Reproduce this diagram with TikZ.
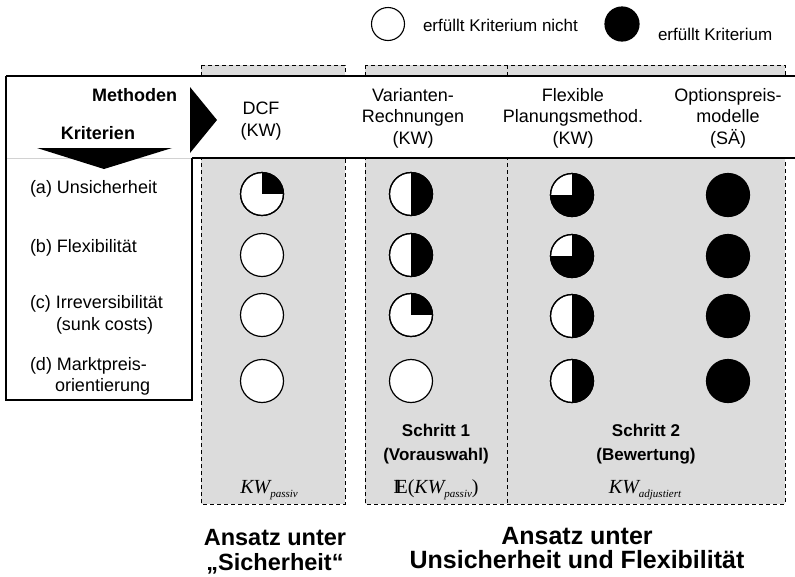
\documentclass[tikz,border=0pt]{standalone}
\usepackage{fontspec}
\setmainfont{Liberation Sans}
\newfontfamily\tms{Liberation Serif}
\definecolor{boxgray}{RGB}{220,220,220}

% KW with an italic subscript, set in a Times-like face
\newcommand\kwsub[1]{{\tms\itshape\fontsize{20}{20}\selectfont KW}\raisebox{-4pt}{\tms\itshape\fontsize{11}{11}\selectfont #1}}

\tikzset{
  every node/.style={inner sep=0pt, outer sep=0pt},
  colhead/.style={font=\fontsize{18}{21.5}\selectfont, align=center},
  hdbold/.style={font=\bfseries\fontsize{18}{21.5}\selectfont},
  crit/.style={font=\fontsize{18}{21}\selectfont, anchor=west, text height=13pt, text depth=4pt},
  legendtxt/.style={font=\fontsize{17}{20}\selectfont, anchor=west},
  steptxt/.style={font=\bfseries\fontsize{17}{24}\selectfont, align=center},
  approach/.style={font=\bfseries\fontsize{23.5}{25}\selectfont, align=center},
  approachwide/.style={font=\bfseries\fontsize{25}{24}\selectfont, align=center},
  band/.style={fill=boxgray, draw=black, dash pattern=on 4pt off 3pt, line width=0.9pt},
  frame/.style={draw=black, line width=1.3pt},
  dot/.style={circle, draw=black, fill=white, line width=1.2pt, minimum size=43pt},
  dotline/.style={postaction={draw=black, line width=1.2pt}},
  qone/.style={dot, dotline, path picture={\fill[black] (path picture bounding box.center) rectangle (path picture bounding box.north east);}},
  qtwo/.style={dot, dotline, path picture={\fill[black] (path picture bounding box.south) rectangle (path picture bounding box.north east);}},
  qthree/.style={dot, dotline, path picture={
      \fill[black] (path picture bounding box.south west) rectangle (path picture bounding box.east);
      \fill[black] (path picture bounding box.center) rectangle (path picture bounding box.north east);}},
  qfour/.style={dot, fill=black},
}

\begin{document}
\begin{tikzpicture}[x=1pt, y=-1pt]
\useasboundingbox (0,0) rectangle (795,576);

% shaded method groups
\draw[band] (201,65) rectangle (345,504);
\draw[band] (365,65) rectangle (785,504);
\draw[black, dash pattern=on 4pt off 3pt, line width=0.9pt] (507,65) -- (507,504);

% header band and criteria column
\fill[white] (6,76) rectangle (795,158);
\fill[white] (6,158) rectangle (192,400);
\draw[frame] (6,76) -- (795,76);
\draw[frame] (192,158) -- (795,158);
\draw[gray!35, line width=0.8pt] (6,158) -- (192,158);
\draw[frame] (192,158) -- (192,400) -- (6,400) -- (6,76);

% direction arrows
\fill[black] (190,87) -- (190,153) -- (217,120) -- cycle;
\fill[black] (37,148) -- (172,148) -- (104,169) -- cycle;

\node[hdbold, anchor=east] (meth) at (177,95) {Methoden};
\node[hdbold] (krit) at (98,133) {Kriterien};

% legend
\node[dot, minimum size=33pt, line width=1.1pt] (lgopen) at (388,24) {};
\node[legendtxt] (lgopentxt) at (423,25) {erfüllt Kriterium nicht};
\node[qfour, minimum size=34pt] (lgfull) at (622,24) {};
\node[legendtxt] (lgfulltxt) at (658,34) {erfüllt Kriterium};

% method headings
\node[colhead] (mdcf) at (261,121) {DCF\\(KW)};
\node[colhead] (mvar) at (413,118) {Varianten-\\Rechnungen\\(KW)};
\node[colhead] (mflex) at (573,118) {Flexible\\Planungsmethod.\\(KW)};
\node[colhead] (mopt) at (728,118) {Optionspreis-\\modelle\\(SÄ)};

% criteria
\node[crit] (ca) at (30,189) {(a) Unsicherheit};
\node[crit] (cb) at (30,248) {(b) Flexibilität};
\node[crit] (cc) at (30,304) {(c) Irreversibilität};
\node[crit] (cc2) at (56,326) {(sunk costs)};
\node[crit] (cd) at (30,366) {(d) Marktpreis-};
\node[crit] (cd2) at (55,387) {orientierung};

% ratings: DCF
\node[qone] (r11) at (262,194) {};
\node[dot]  (r21) at (262,255) {};
\node[dot]  (r31) at (262,315) {};
\node[dot]  (r41) at (262,381) {};
% ratings: Variantenrechnungen
\node[qtwo] (r12) at (411,194) {};
\node[qtwo] (r22) at (411,255) {};
\node[qone] (r32) at (411,315) {};
\node[dot]  (r42) at (411,381) {};
% ratings: flexible Planungsmethoden
\node[qthree] (r13) at (572,195) {};
\node[qthree] (r23) at (572,256) {};
\node[qtwo]   (r33) at (572,316) {};
\node[qtwo]   (r43) at (572,381) {};
% ratings: Optionspreismodelle
\node[qfour] (r14) at (728,195) {};
\node[qfour] (r24) at (728,256) {};
\node[qfour] (r34) at (728,316) {};
\node[qfour] (r44) at (728,381) {};

% steps and value measures
\node[steptxt] (s1) at (436,444) {Schritt 1\\(Vorauswahl)};
\node[steptxt] (s2) at (646,444) {Schritt 2\\(Bewertung)};
\node (v1) at (269,490) {\kwsub{passiv}};
\node (v2) at (436,490) {{\tms\fontsize{20}{20}\selectfont I\kern-4.5pt E(}\kwsub{passiv}{\tms\fontsize{20}{20}\selectfont )}};
\node (v3) at (645,490) {\kwsub{adjustiert}};

% approach captions
\node[approach] (a1) at (275,552) {Ansatz unter\\„Sicherheit“};
\node[approachwide] (a2) at (577,548) {Ansatz unter\\Unsicherheit und Flexibilität};
\end{tikzpicture}
\end{document}
